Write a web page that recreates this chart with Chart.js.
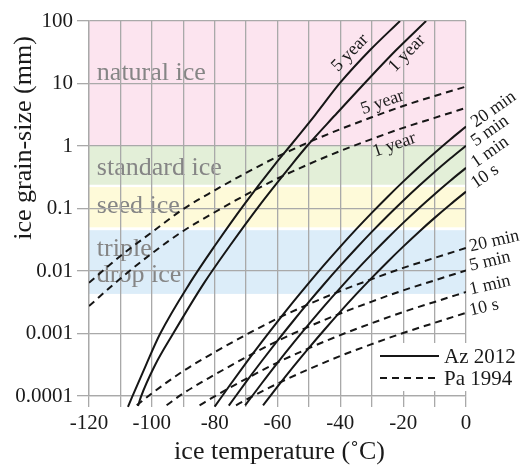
<!DOCTYPE html>
<html lang="en">
<head>
<meta charset="utf-8">
<title>Ice grain-size vs temperature</title>
<script src="https://cdnjs.cloudflare.com/ajax/libs/Chart.js/4.4.1/chart.umd.min.js"></script>
<style>
	html, body { margin: 0; padding: 0; background: #fff; }
</style>
</head>
<body>
<canvas id="grain" width="524" height="465"></canvas>
<script>
// axis ticks
const tempLabelled = [-120, -100, -80, -60, -40, -20, 0]
const sizeTicks = [0.0001, 0.001, 0.01, 0.1, 1, 10, 100]
const sizeTickLabels = ["0.0001", "0.001", "0.01", "0.1", "1", "10", "100"]

// ice classes (mm)
const zoneLow = [1, 0.24, 0.05, 0.0043]
const zoneHigh = [100, 1, 0.22, 0.045]
const zoneColors = ["#fce4ef", "#e3efd8", "#fefad9", "#dcedf9"]
const zoneText = ["natural ice", "standard ice", "seed ice", "triple", "drop ice"]
const zoneTextT = [-117.5, -117.5, -117.5, -117.5, -117.5]
const zoneTextD = [11.4, 0.344, 0.084, 0.0174, 0.0067]

// Az 2012 (solid)
const az5yT = [-107.6, -106.3, -101.9, -97.4, -87.9, -79.9, -70.4, -60.8, -56.0, -48.1, -40.1, -30.6, -21.0]
const az5yD = [0.000067, 0.000096, 0.00031, 0.00098, 0.0064, 0.0256, 0.12, 0.51, 1.0, 3.1, 10.2, 34, 100]
const az1yT = [-104.4, -103.5, -99.0, -93.3, -83.4, -75.1, -65.3, -55.4, -50.6, -41.7, -32.2, -22.3, -12.7]
const az1yD = [0.000069, 0.000096, 0.00031, 0.00098, 0.0064, 0.0256, 0.12, 0.51, 1.0, 3.1, 10.2, 34, 100]
const az20mT = [-80, -75, -70, -65, -60, -55, -50, -45, -40, -35, -30, -25, -20, -15, -10, -5, 0]
const az20mD = [0.0000676, 0.000153, 0.000339, 0.000733, 0.00155, 0.0032, 0.00646, 0.01274, 0.02455, 0.04624, 0.0851, 0.1531, 0.2692, 0.4624, 0.776, 1.274, 2.042]
const az5mT = [-75.5, -70, -65, -60, -55, -50, -45, -40, -35, -30, -25, -20, -15, -10, -5, 0]
const az5mD = [0.00007, 0.000168, 0.000363, 0.000767, 0.001585, 0.0032, 0.00631, 0.01216, 0.0229, 0.0422, 0.0759, 0.1334, 0.229, 0.385, 0.631, 1.012]
const az1mT = [-70.3, -65, -60, -55, -50, -45, -40, -35, -30, -25, -20, -15, -10, -5, 0]
const az1mD = [0.0000708, 0.00016, 0.000339, 0.0007, 0.00141, 0.00279, 0.00537, 0.01012, 0.01862, 0.0335, 0.0589, 0.1012, 0.1698, 0.2786, 0.4467]
const az10sT = [-64.6, -60, -55, -50, -45, -40, -35, -30, -25, -20, -15, -10, -5, 0]
const az10sD = [0.0000708, 0.000141, 0.000292, 0.000589, 0.00116, 0.00224, 0.00422, 0.00776, 0.01396, 0.02455, 0.0422, 0.0708, 0.1161, 0.1862]

// Pa 1994 (dashed)
const pa5yT = [-120, -110, -100, -90, -80, -70, -60, -50, -40, -30, -20, -10, 0]
const pa5yD = [0.0065, 0.0174, 0.0417, 0.098, 0.195, 0.372, 0.676, 1.15, 1.86, 2.88, 4.37, 6.31, 8.91]
const pa1yT = [-120, -110, -100, -90, -80, -70, -60, -50, -40, -30, -20, -10, 0]
const pa1yD = [0.00275, 0.0076, 0.0191, 0.0437, 0.0871, 0.166, 0.302, 0.513, 0.832, 1.29, 1.95, 2.82, 4.07]
const pa20mT = [-104.8, -100, -90, -80, -70, -60, -50, -40, -30, -20, -10, 0]
const pa20mD = [0.000071, 0.00011, 0.000251, 0.000501, 0.000955, 0.00174, 0.00295, 0.00479, 0.00741, 0.0112, 0.0162, 0.0234]
const pa5mT = [-95.3, -90, -80, -70, -60, -50, -40, -30, -20, -10, 0]
const pa5mD = [0.000071, 0.00011, 0.000219, 0.000417, 0.000759, 0.00129, 0.00209, 0.00324, 0.0049, 0.00708, 0.0102]
const pa1mT = [-84.8, -80, -70, -60, -50, -40, -30, -20, -10, 0]
const pa1mD = [0.000071, 0.0000989, 0.000188, 0.000343, 0.000582, 0.000944, 0.00146, 0.00221, 0.0032, 0.00462]
const pa10sT = [-73.2, -70, -60, -50, -40, -30, -20, -10, 0]
const pa10sD = [0.000071, 0.0000871, 0.000158, 0.000269, 0.000437, 0.000676, 0.00102, 0.00148, 0.00214]

// curve annotations
const noteText = ["5 year", "1 year", "5 year", "1 year", "20 min", "5 min", "1 min", "10 s", "20 min", "5 min", "1 min", "10 s"]
const noteT = [-36.9, -18.8, -26.6, -22.8, 2.2, 2.2, 2.2, 2.2, 1.2, 1.2, 1.2, 1.2]
const noteD = [30.8, 30.2, 4.97, 1.04, 2.25, 1.12, 0.515, 0.238, 0.0242, 0.012, 0.00497, 0.00229]
const noteAngle = [-46, -46, -19, -19, -35, -35, -35, -35, -13, -13, -13, -13]

const legendText = ["Az 2012", "Pa 1994"]

const serif = '"Liberation Serif", "DejaVu Serif", serif'
const gridGray = "#a9a9a9"

function pts(t, d) {
	return t.map((v, i) => ({ x: v, y: d[i] }))
}

function curve(t, d, dashed) {
	return {
		data: pts(t, d),
		borderColor: "#161616",
		borderWidth: 2,
		borderDash: dashed ? [7, 5] : [],
		pointRadius: 0,
		fill: false,
		cubicInterpolationMode: "monotone",
		clip: { left: 0, top: 0, right: 0, bottom: 14 }
	}
}

const zonesPlugin = {
	id: "zones",
	beforeDraw(chart) {
		const { ctx, chartArea: a, scales: { x, y } } = chart
		ctx.save()
		ctx.fillStyle = "#fff"
		ctx.fillRect(0, 0, chart.width, chart.height)
		for (let i = 0; i < zoneLow.length; i++) {
			const top = y.getPixelForValue(zoneHigh[i])
			const bot = y.getPixelForValue(zoneLow[i])
			ctx.fillStyle = zoneColors[i]
			ctx.fillRect(a.left, top, a.right - a.left, bot - top)
		}
		ctx.font = "26px " + serif
		ctx.fillStyle = "#858585"
		ctx.textBaseline = "alphabetic"
		zoneText.forEach((t, i) => ctx.fillText(t, x.getPixelForValue(zoneTextT[i]), y.getPixelForValue(zoneTextD[i])))
		ctx.restore()
	},
	afterDraw(chart) {
		const { ctx, chartArea: a, scales: { x, y } } = chart
		ctx.save()

		// curve labels
		ctx.fillStyle = "#1a1a1a"
		ctx.font = "18px " + serif
		ctx.textBaseline = "middle"
		noteText.forEach((t, i) => {
			ctx.save()
			ctx.translate(x.getPixelForValue(noteT[i]), y.getPixelForValue(noteD[i]))
			ctx.rotate(noteAngle[i] * Math.PI / 180)
			ctx.textAlign = noteT[i] > 0 ? "left" : "center"
			ctx.fillText(t, 0, 0)
			ctx.restore()
		})

		// legend
		const lx = a.right - 88, ly = a.bottom - 53
		ctx.fillStyle = "#fff"
		ctx.fillRect(lx, ly, 138, 48)
		ctx.strokeStyle = "#161616"
		ctx.lineWidth = 2
		legendText.forEach((t, i) => {
			const yy = ly + 13 + i * 22
			ctx.setLineDash(i ? [7, 5] : [])
			ctx.beginPath()
			ctx.moveTo(lx + 2, yy)
			ctx.lineTo(lx + 61, yy)
			ctx.stroke()
			ctx.fillStyle = "#1a1a1a"
			ctx.font = "21px " + serif
			ctx.textAlign = "left"
			ctx.fillText(t, lx + 66, yy + 1)
		})
		ctx.setLineDash([])

		// axis titles
		ctx.font = "26px " + serif
		ctx.textAlign = "center"
		ctx.textBaseline = "alphabetic"
		ctx.fillText("ice temperature (˚C)", (a.left + a.right) / 2 + 2, 459)
		ctx.translate(31, 138)
		ctx.rotate(-Math.PI / 2)
		ctx.fillText("ice grain-size (mm)", 0, 0)
		ctx.restore()
	}
}

new Chart(document.getElementById("grain"), {
	type: "line",
	data: {
		datasets: [
			curve(az5yT, az5yD, false),
			curve(az1yT, az1yD, false),
			curve(az20mT, az20mD, false),
			curve(az5mT, az5mD, false),
			curve(az1mT, az1mD, false),
			curve(az10sT, az10sD, false),
			curve(pa5yT, pa5yD, true),
			curve(pa1yT, pa1yD, true),
			curve(pa20mT, pa20mD, true),
			curve(pa5mT, pa5mD, true),
			curve(pa1mT, pa1mD, true),
			curve(pa10sT, pa10sD, true)
		]
	},
	options: {
		responsive: false,
		animation: false,
		layout: { padding: { left: 0, right: 58, top: 21, bottom: 0 } },
		plugins: { legend: { display: false }, tooltip: { enabled: false } },
		scales: {
			x: {
				type: "linear",
				min: -120,
				max: 0,
				afterFit: s => { s.height = 69 },
				ticks: {
					stepSize: 10,
					autoSkip: false,
					maxRotation: 0,
					padding: 4,
					color: "#1a1a1a",
					font: { family: serif, size: 21 },
					callback: v => tempLabelled.includes(v) ? String(v) : ""
				},
				grid: { color: gridGray, lineWidth: 1.3, tickLength: 11, drawTicks: true },
				border: { color: gridGray, width: 1.3 }
			},
			y: {
				type: "logarithmic",
				min: 0.0001,
				max: 100,
				afterFit: s => { s.width = 89 },
				afterBuildTicks: s => { s.ticks = sizeTicks.map(v => ({ value: v, major: true })) },
				ticks: {
					padding: 4,
					color: "#1a1a1a",
					font: { family: serif, size: 21 },
					callback: (v, i) => sizeTickLabels[i]
				},
				grid: { color: gridGray, lineWidth: 1.3, tickLength: 12, drawTicks: true },
				border: { color: gridGray, width: 1.3 }
			}
		}
	},
	plugins: [zonesPlugin]
})
</script>
</body>
</html>
